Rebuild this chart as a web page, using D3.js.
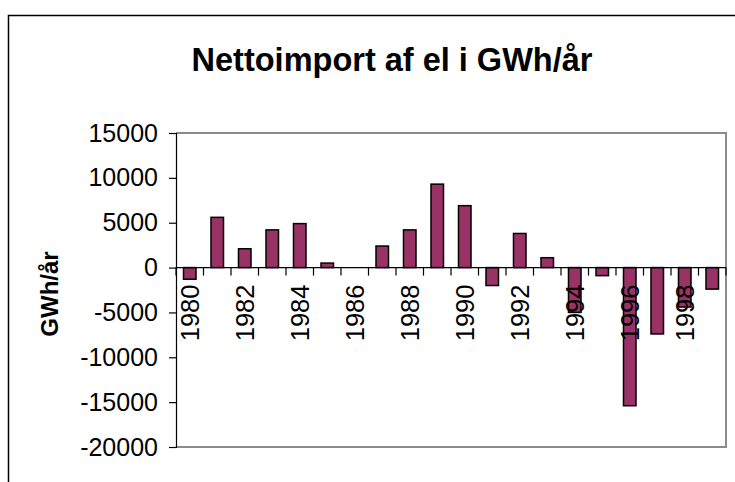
<!DOCTYPE html>
<html>
<head>
<meta charset="utf-8">
<script src="https://cdn.jsdelivr.net/npm/d3@7"></script>
<style>
    body { margin: 0; background: #fff; }
    svg { display: block; font-family: 'Liberation Sans', Arial, sans-serif; }
</style>
</head>
<body>
<div class="svg-container"></div>
<script>
const years = ['1980', '1981', '1982', '1983', '1984', '1985', '1986', '1987', '1988', '1989',
    '1990', '1991', '1992', '1993', '1994', '1995', '1996', '1997', '1998', '1999'];
const nettoimport = [-1300, 5600, 2100, 4200, 4900, 500, 0, 2400, 4200, 9300,
    6900, -2000, 3800, 1100, -5000, -900, -15400, -7400, -4400, -2400];
const yTicks = [-20000, -15000, -10000, -5000, 0, 5000, 10000, 15000];
const shownYears = years.filter((d, i) => i % 2 === 0);

const svgWidth = 735;
const svgHeight = 482;
const plot = {left: 176, right: 726, top: 133, bottom: 447};

const svg = d3.select('.svg-container').append('svg')
    .attr('width', svgWidth)
    .attr('height', svgHeight);

// chart frame, cut off at right and bottom
svg.append('path')
    .attr('d', `M8.5,${svgHeight} V15.5 H${svgWidth}`)
    .attr('fill', 'none')
    .attr('stroke', '#000')
    .attr('stroke-width', 1.5);

svg.append('text')
    .attr('x', 392)
    .attr('y', 71)
    .attr('text-anchor', 'middle')
    .attr('font-size', '32.5px')
    .attr('font-weight', 'bold')
    .text('Nettoimport af el i GWh/år');

const x = d3.scaleBand()
    .domain(years)
    .range([plot.left, plot.right])
    .paddingInner(0.545)
    .paddingOuter(0.2725);

const y = d3.scaleLinear()
    .domain([-20000, 15000])
    .range([plot.bottom, plot.top]);

// plot area border (grey top, right, bottom)
svg.append('path')
    .attr('d', `M${plot.left},${plot.top} H${plot.right} V${plot.bottom} H${plot.left}`)
    .attr('fill', 'none')
    .attr('stroke', '#8c8c8c')
    .attr('stroke-width', 2);

// y axis, plain hyphen for negatives like the original
const yAxis = svg.append('g')
    .attr('transform', `translate(${plot.left},0)`)
    .call(d3.axisLeft(y).tickValues(yTicks).tickSize(7).tickPadding(11).tickFormat(d => String(d)));
yAxis.select('.domain').attr('stroke', '#000').attr('stroke-width', 1.2);
yAxis.selectAll('.tick line').attr('stroke', '#000').attr('stroke-width', 1.2);
yAxis.selectAll('.tick text')
    .attr('font-size', '25px')
    .attr('font-family', "'Liberation Sans', Arial, sans-serif")
    .attr('fill', '#000');

svg.append('text')
    .attr('transform', `translate(58,${(plot.top + plot.bottom) / 2 + 4}) rotate(-90)`)
    .attr('text-anchor', 'middle')
    .attr('font-size', '24px')
    .attr('font-weight', 'bold')
    .text('GWh/år');

// bars
svg.append('g').selectAll('rect')
    .data(years)
    .join('rect')
    .attr('x', d => x(d))
    .attr('width', x.bandwidth())
    .attr('y', (d, i) => y(Math.max(0, nettoimport[i])))
    .attr('height', (d, i) => Math.abs(y(nettoimport[i]) - y(0)))
    .attr('fill', '#993366')
    .attr('stroke', '#000')
    .attr('stroke-width', 1.5);

// category axis on the zero line
const step = x.step();
const xAxis = svg.append('g');
xAxis.append('line')
    .attr('x1', plot.left).attr('x2', plot.right)
    .attr('y1', y(0)).attr('y2', y(0))
    .attr('stroke', '#000').attr('stroke-width', 1.2);
xAxis.selectAll('.cat-tick')
    .data(d3.range(years.length + 1))
    .join('line')
    .attr('class', 'cat-tick')
    .attr('x1', i => plot.left + i * step)
    .attr('x2', i => plot.left + i * step)
    .attr('y1', y(0))
    .attr('y2', y(0) + 8)
    .attr('stroke', '#000').attr('stroke-width', 1.2);
xAxis.selectAll('.cat-label')
    .data(shownYears)
    .join('text')
    .attr('class', 'cat-label')
    .attr('transform', d => `translate(${x(d) + x.bandwidth() / 2},${y(0) + 17}) rotate(-90)`)
    .attr('text-anchor', 'end')
    .attr('dy', '0.35em')
    .attr('font-size', '25.5px')
    .text(d => d);
</script>
</body>
</html>
